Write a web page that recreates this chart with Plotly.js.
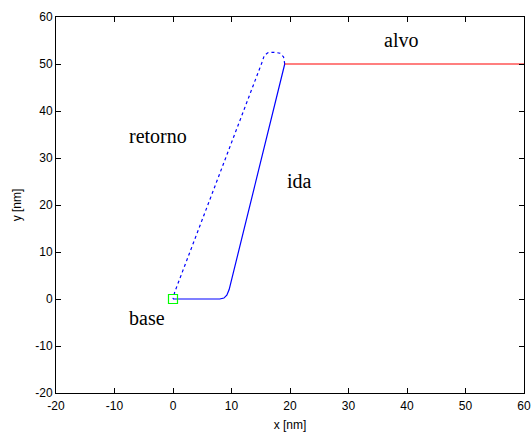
<!DOCTYPE html>
<html><head><meta charset="utf-8">
<script src="https://cdn.plot.ly/plotly-3.0.1.min.js"></script>
<style>html,body{margin:0;padding:0;background:#fff}#plot{width:531px;height:433px}</style>
</head><body><div id="plot"></div>
<script>
// Outbound path ("ida")
const idaX = [0, 8, 8.7, 9.2, 9.6, 19.1];
const idaY = [0, 0, 0.2, 0.8, 2, 50];
// Return path ("retorno")
const retX = [19.1, 18.9, 18.3, 17.3, 16.2, 15.6, 15.2, 0.3, 0];
const retY = [50, 51.5, 52.3, 52.5, 52.4, 51.8, 50.3, 1.5, 0];
// Target line ("alvo")
const alvoX = [19.1, 60];
const alvoY = [50, 50];
// Base point
const baseX = [0];
const baseY = [0];
// Labels
const labelText = ["alvo", "retorno", "ida", "base"];
const labelX = [35.8, -7.8, 19.2, -7.8];
const labelY = [55.1, 34.7, 25.1, -4.0];
const xTicks = [-20, -10, 0, 10, 20, 30, 40, 50, 60];
const yTicks = [-20, -10, 0, 10, 20, 30, 40, 50, 60];

const traces = [
  {x: idaX, y: idaY, mode: 'lines', line: {color: '#0000ff', width: 1.2}, showlegend: false},
  {x: retX, y: retY, mode: 'lines', line: {color: '#0000ff', width: 1.2, dash: '3px,3px'}, showlegend: false},
  {x: alvoX, y: alvoY, mode: 'lines', line: {color: '#ff0000', width: 1.2}, showlegend: false},
  {x: baseX, y: baseY, mode: 'markers', marker: {symbol: 'square-open', size: 9, color: '#00ff00', line: {width: 1.2}}, showlegend: false}
];

const annotations = labelText.map((t, i) => ({
  x: labelX[i], y: labelY[i], text: t, showarrow: false, xanchor: 'left', yanchor: 'middle',
  font: {family: 'Liberation Serif, Times New Roman, serif', size: 20, color: '#000'}
}));

const axisCommon = {
  showgrid: false, zeroline: false, showline: true, linecolor: '#000', linewidth: 1,
  mirror: 'ticks', ticks: 'inside', ticklen: 5, tickcolor: '#000',
  tickfont: {family: 'Liberation Sans, Arial, sans-serif', size: 12, color: '#000'}
};

const layout = {
  width: 531, height: 433,
  margin: {l: 56, r: 7, t: 17, b: 40},
  paper_bgcolor: '#fff', plot_bgcolor: '#fff',
  xaxis: Object.assign({}, axisCommon, {range: [-20, 60], tickvals: xTicks, ticktext: xTicks.map(String),
    ticklabelstandoff: 2,
    title: {text: 'x [nm]', font: {family: 'Liberation Sans, Arial, sans-serif', size: 12, color: '#000'}, standoff: 8}}),
  yaxis: Object.assign({}, axisCommon, {range: [-20, 60], tickvals: yTicks, ticktext: yTicks.map(String),
    title: {text: 'y [nm]', font: {family: 'Liberation Sans, Arial, sans-serif', size: 12, color: '#000'}, standoff: 11}}),
  annotations: annotations
};

Plotly.newPlot('plot', traces, layout, {displayModeBar: false, staticPlot: true});
</script>
</body></html>
